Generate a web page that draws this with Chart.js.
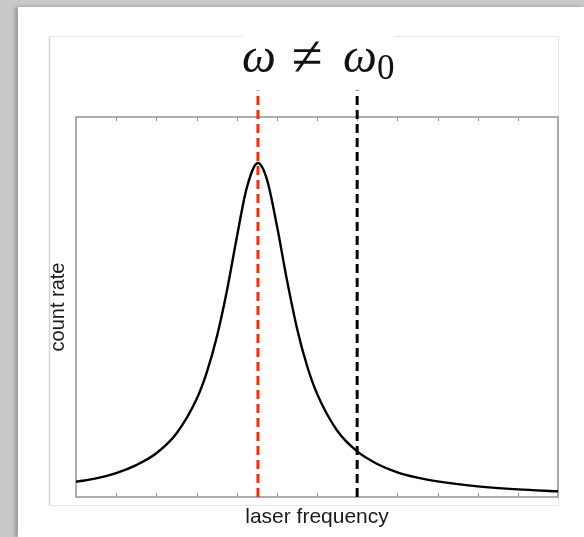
<!DOCTYPE html>
<html>
<head>
<meta charset="utf-8">
<script src="https://cdn.jsdelivr.net/npm/chart.js@4.4.1/dist/chart.umd.min.js"></script>
<style>
  html, body { margin: 0; padding: 0; width: 584px; height: 537px; overflow: hidden; background: #c9c9c9; }
  #sheet { position: absolute; left: 18px; top: 7px; right: 0; bottom: 0; background: #fff; box-shadow: -3px 0 4px rgba(0,0,0,0.25); }
  #wrap { position: absolute; left: 0; top: 0; width: 584px; height: 537px; }
</style>
</head>
<body>
<div id="sheet"></div>
<div id="wrap"><canvas id="chart" width="584" height="537"></canvas></div>
<script>
// laser frequency (arbitrary units, 12 tick intervals) and count rate
const freq = [0, 0.5, 1, 1.5, 2, 2.5, 3, 3.25, 3.5, 3.75, 4, 4.25, 4.53, 4.75, 5, 5.25, 5.5, 5.75, 6, 6.5, 7, 7.5, 8, 8.5, 9, 10, 11, 12];
const countRate = [0.040, 0.049, 0.063, 0.084, 0.115, 0.167, 0.257, 0.326, 0.419, 0.539, 0.681, 0.813, 0.879, 0.837, 0.715, 0.572, 0.445, 0.346, 0.272, 0.175, 0.120, 0.087, 0.065, 0.051, 0.041, 0.028, 0.020, 0.015];

// vertical markers: laser frequency (red) and resonance w0 (black)
const laserFreq = 4.53;
const resonanceFreq = 7;
const markerSpan = [0, 1.07];

const curve = freq.map((f, i) => ({ x: f, y: countRate[i] }));
const marker = (f) => markerSpan.map(v => ({ x: f, y: v }));

const framePlugin = {
  id: 'frame',
  beforeDraw(chart) {
    const c = chart.ctx;
    c.save();
    // faint outer box around the figure
    c.strokeStyle = '#e8e8e8';
    c.lineWidth = 1;
    c.strokeRect(49.5, 36.5, 509, 469);
    c.strokeStyle = '#d2d2d2';
    c.lineWidth = 1.5;
    c.beginPath();
    c.moveTo(49.5, 38);
    c.lineTo(49.5, 505);
    c.stroke();
    c.restore();
  },
  beforeDatasetsDraw(chart) {
    const c = chart.ctx;
    const a = chart.chartArea;
    const xs = chart.scales.x;
    c.save();
    c.strokeStyle = '#939393';
    c.lineWidth = 1.5;
    c.strokeRect(a.left, a.top, a.right - a.left, a.bottom - a.top);
    c.lineWidth = 1;
    c.beginPath();
    xs.ticks.forEach(t => {
      if (t.value <= xs.min || t.value >= xs.max) return;
      const px = Math.round(xs.getPixelForValue(t.value)) + 0.5;
      c.moveTo(px, a.top);
      c.lineTo(px, a.top + 4);
      c.moveTo(px, a.bottom);
      c.lineTo(px, a.bottom - 4);
    });
    c.stroke();
    c.restore();
  },
  afterDraw(chart) {
    const c = chart.ctx;
    c.save();
    c.fillStyle = '#fff';
    c.fillRect(243, 28, 151, 18);
    c.fillStyle = '#111';
    c.textBaseline = 'alphabetic';
    c.textAlign = 'left';
    c.font = 'italic 48px "Liberation Serif", "DejaVu Serif", serif';
    c.fillText('ω', 242, 72);
    c.fillText('ω', 343, 72);
    c.font = '56px "Liberation Serif", "DejaVu Serif", serif';
    c.fillText('≠', 292, 75);
    c.font = '35px "Liberation Serif", "DejaVu Serif", serif';
    c.fillText('0', 377, 79);
    c.restore();
  }
};

new Chart(document.getElementById('chart'), {
  type: 'line',
  data: {
    datasets: [
      { data: marker(laserFreq), borderColor: '#ff2a00', borderWidth: 3, borderDash: [9, 5], pointRadius: 0, clip: false },
      { data: marker(resonanceFreq), borderColor: '#000', borderWidth: 3, borderDash: [9, 5], pointRadius: 0, clip: false },
      { data: curve, borderColor: '#000', borderWidth: 2.4, pointRadius: 0, cubicInterpolationMode: 'monotone', fill: false }
    ]
  },
  options: {
    responsive: false,
    animation: false,
    layout: { padding: { left: 46, right: 26, top: 117, bottom: 6.8 } },
    plugins: { legend: { display: false }, tooltip: { enabled: false } },
    scales: {
      x: {
        type: 'linear', min: 0, max: 12,
        ticks: { display: false, stepSize: 1 },
        grid: { display: false, drawTicks: false },
        border: { display: false },
        title: { display: true, text: 'laser frequency', color: '#1a1a1a',
          font: { family: '"Liberation Sans", Arial, sans-serif', size: 21 }, padding: { top: 8, bottom: 0 } }
      },
      y: {
        min: 0, max: 1,
        ticks: { display: false },
        grid: { display: false, drawTicks: false },
        border: { display: false },
        title: { display: true, text: 'count rate', color: '#1a1a1a',
          font: { family: '"Liberation Sans", Arial, sans-serif', size: 20 }, padding: { top: 0, bottom: 6 } }
      }
    }
  },
  plugins: [framePlugin]
});
</script>
</body>
</html>
